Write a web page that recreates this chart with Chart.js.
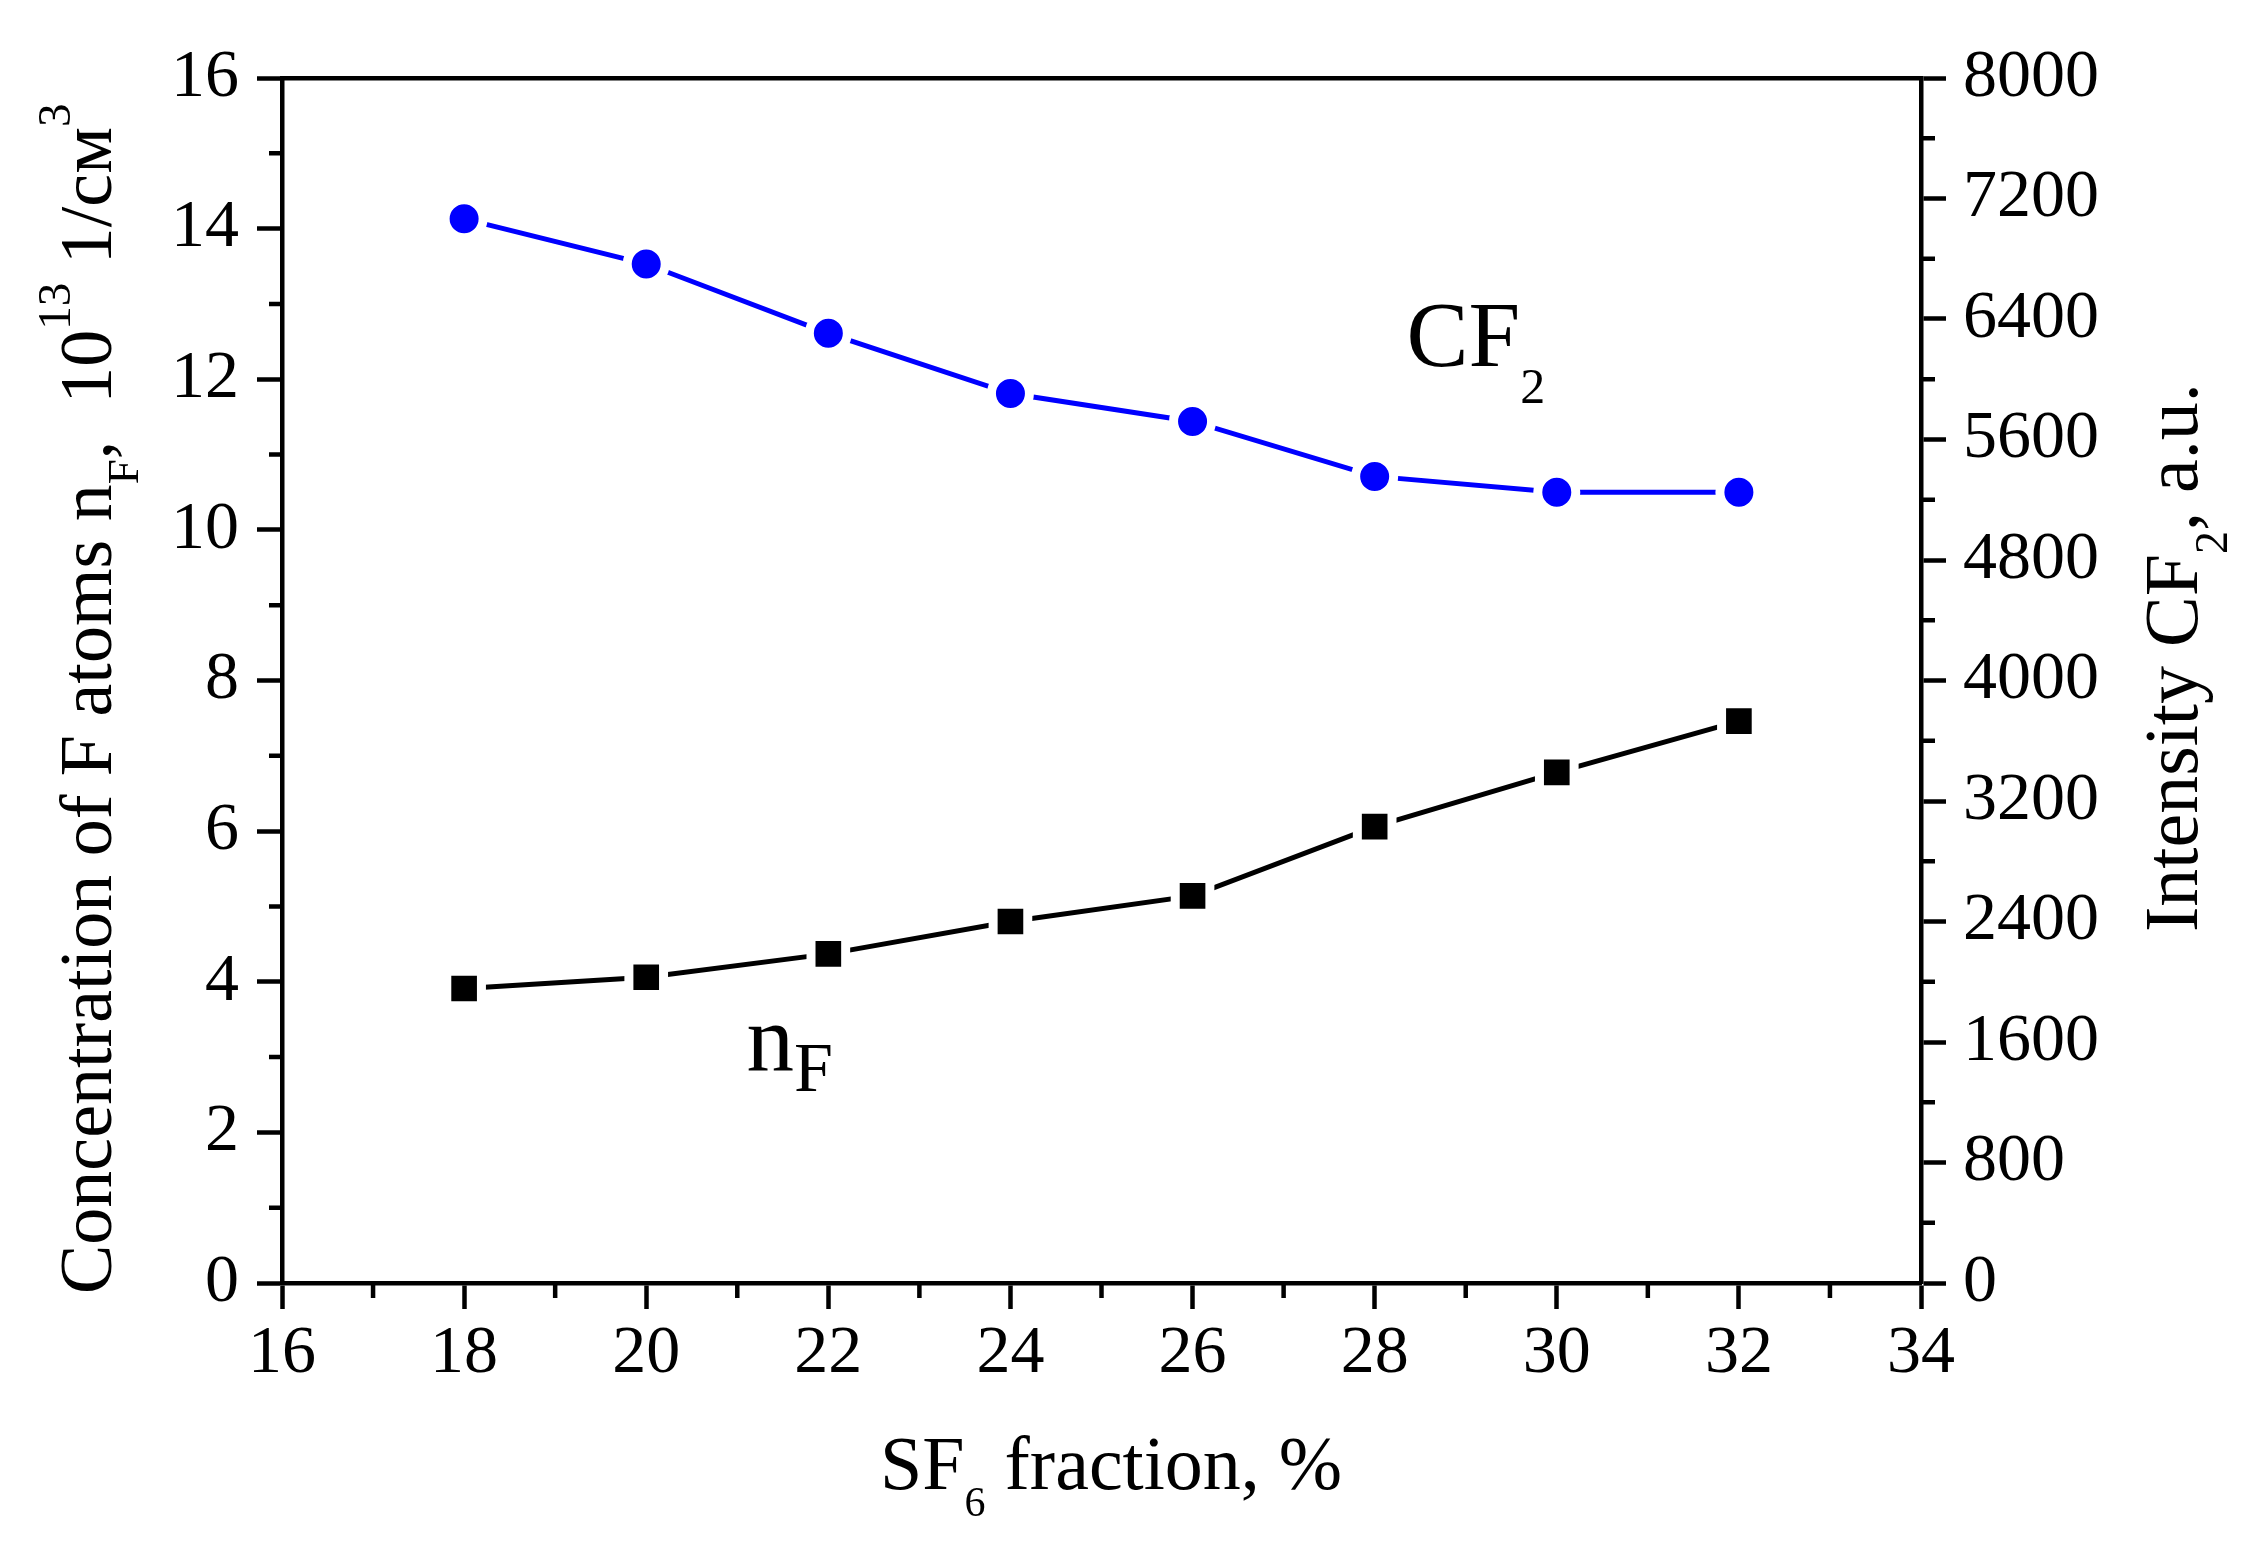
<!DOCTYPE html>
<html>
<head>
<meta charset="utf-8">
<script src="https://cdn.jsdelivr.net/npm/chart.js@4.4.0/dist/chart.umd.min.js"></script>
<style>
  html, body { margin: 0; padding: 0; background: #fff; }
  #chart { display: block; }
</style>
</head>
<body>
<canvas id="chart" width="2251" height="1550" style="width:2251px;height:1550px"></canvas>
<script>
// SF6 fraction, % (x axis)
const sf6Fraction = [18, 20, 22, 24, 26, 28, 30, 32];
// concentration of F atoms, 10^13 1/cm^3 (left axis)
const fluorineConc = [3.91, 4.06, 4.37, 4.80, 5.14, 6.06, 6.78, 7.46];
// CF2 emission intensity, a.u. (right axis)
const cf2Intensity = [7065, 6765, 6305, 5905, 5720, 5355, 5250, 5250];

// tick values
const xTicks = [16, 18, 20, 22, 24, 26, 28, 30, 32, 34];
const leftTicks = [0, 2, 4, 6, 8, 10, 12, 14, 16];
const rightTicks = [0, 800, 1600, 2400, 3200, 4000, 4800, 5600, 6400, 7200, 8000];

const FONT = "'Liberation Serif', serif";
const AXIS_W = 4.5;

// midpoints between major ticks -> minor ticks
function minorOf(ticks) {
  const out = [];
  for (let i = 0; i < ticks.length - 1; i++) out.push((ticks[i] + ticks[i + 1]) / 2);
  return out;
}

function setTicks(values) {
  return function(scale) {
    scale.ticks = values.map(v => ({ value: v }));
  };
}

// draw a run of text pieces (with sub/superscripts) on one baseline
function drawRich(ctx, parts, x, y, angle) {
  ctx.save();
  ctx.translate(x, y);
  ctx.rotate(angle);
  ctx.textAlign = 'left';
  ctx.textBaseline = 'alphabetic';
  ctx.fillStyle = '#000';
  let cx = 0;
  parts.forEach(p => {
    ctx.font = p.size + 'px ' + FONT;
    ctx.fillText(p.text, cx, p.dy || 0);
    cx += ctx.measureText(p.text).width;
  });
  ctx.restore();
}

// minor ticks, axis titles and curve labels
const decorPlugin = {
  id: 'decor',
  afterDraw(chart) {
    const ctx = chart.ctx;
    const x = chart.scales.x;
    const y = chart.scales.y;
    const y2 = chart.scales.y2;
    const area = chart.chartArea;

    ctx.save();
    ctx.strokeStyle = '#000';
    ctx.lineWidth = AXIS_W;
    ctx.beginPath();
    minorOf(xTicks).forEach(v => {
      const px = x.getPixelForValue(v);
      ctx.moveTo(px, area.bottom);
      ctx.lineTo(px, area.bottom + 15);
    });
    minorOf(leftTicks).forEach(v => {
      const py = y.getPixelForValue(v);
      ctx.moveTo(area.left - 13, py);
      ctx.lineTo(area.left, py);
    });
    minorOf(rightTicks).forEach(v => {
      const py = y2.getPixelForValue(v);
      ctx.moveTo(area.right, py);
      ctx.lineTo(area.right + 14, py);
    });
    ctx.stroke();
    ctx.restore();

    // x title
    drawRich(ctx, [
      { text: 'SF', size: 76 },
      { text: '6', size: 42, dy: 27 },
      { text: ' fraction, %', size: 76 }
    ], 880, 1489, 0);

    // left title
    drawRich(ctx, [
      { text: 'Concentration of F atoms n', size: 74 },
      { text: 'F', size: 45, dy: 27 },
      { text: ',  10', size: 74 },
      { text: '13', size: 47, dy: -41 },
      { text: ' 1/см', size: 74 },
      { text: '3', size: 47, dy: -41 }
    ], 111, 1294, -Math.PI / 2);

    // right title
    drawRich(ctx, [
      { text: 'Intensity CF', size: 76 },
      { text: '2', size: 46, dy: 30 },
      { text: ', a.u.', size: 76 }
    ], 2197, 932, -Math.PI / 2);

    // curve labels
    drawRich(ctx, [
      { text: 'CF', size: 93 },
      { text: '2', size: 50, dy: 37 }
    ], x.getPixelForValue(28.35), y.getPixelForValue(12.18), 0);

    drawRich(ctx, [
      { text: 'n', size: 95 },
      { text: 'F', size: 70, dy: 20 }
    ], x.getPixelForValue(21.1), y.getPixelForValue(2.82), 0);
  }
};

const tickFont = { family: FONT, size: 68 };
const plainLabel = v => String(v);

function buildChart() {
  new Chart(document.getElementById('chart'), {
    type: 'line',
    data: {
      datasets: [
        {
          label: 'nF',
          data: sf6Fraction.map((v, i) => ({ x: v, y: fluorineConc[i] })),
          yAxisID: 'y',
          borderColor: '#000',
          borderWidth: 5,
          pointStyle: 'rect',
          pointRadius: 24.5,
          pointBackgroundColor: '#000',
          pointBorderColor: '#fff',
          pointBorderWidth: 9,
          tension: 0
        },
        {
          label: 'CF2',
          data: sf6Fraction.map((v, i) => ({ x: v, y: cf2Intensity[i] })),
          yAxisID: 'y2',
          borderColor: '#0000ff',
          borderWidth: 5,
          pointStyle: 'circle',
          pointRadius: 19,
          pointBackgroundColor: '#0000ff',
          pointBorderColor: '#fff',
          pointBorderWidth: 9,
          tension: 0
        }
      ]
    },
    options: {
      responsive: false,
      devicePixelRatio: 1,
      animation: false,
      layout: { padding: 0, autoPadding: false },
      plugins: {
        legend: { display: false },
        tooltip: { enabled: false }
      },
      scales: {
        x: {
          type: 'linear',
          position: 'bottom',
          min: 16,
          max: 34,
          afterBuildTicks: setTicks(xTicks),
          afterFit(scale) { scale.height = 267; },
          ticks: { font: tickFont, color: '#000', padding: 4, maxRotation: 0, autoSkip: false, callback: plainLabel },
          grid: { drawOnChartArea: false, tickLength: 26, tickWidth: AXIS_W, tickColor: '#000' },
          border: { color: '#000', width: AXIS_W }
        },
        xTop: {
          type: 'linear',
          position: 'top',
          min: 16,
          max: 34,
          afterFit(scale) { scale.height = 78; },
          ticks: { display: false },
          grid: { drawOnChartArea: false, drawTicks: false },
          border: { color: '#000', width: AXIS_W }
        },
        y: {
          type: 'linear',
          position: 'left',
          min: 0,
          max: 16,
          afterBuildTicks: setTicks(leftTicks),
          afterFit(scale) { scale.width = 282; },
          ticks: { font: tickFont, color: '#000', padding: 18, callback: plainLabel },
          grid: { drawOnChartArea: false, tickLength: 25, tickWidth: AXIS_W, tickColor: '#000' },
          border: { color: '#000', width: AXIS_W }
        },
        y2: {
          type: 'linear',
          position: 'right',
          min: 0,
          max: 8000,
          afterBuildTicks: setTicks(rightTicks),
          afterFit(scale) { scale.width = 330; },
          ticks: { font: tickFont, color: '#000', padding: 17, callback: plainLabel },
          grid: { drawOnChartArea: false, tickLength: 25, tickWidth: AXIS_W, tickColor: '#000' },
          border: { color: '#000', width: AXIS_W }
        }
      }
    },
    plugins: [decorPlugin]
  });
}

// make sure the serif face is ready before the canvas is painted
Promise.all([
  document.fonts.load("68px 'Liberation Serif'"),
  document.fonts.load("68px 'Liberation Serif'", 'см')
]).then(buildChart, buildChart);
</script>
</body>
</html>
